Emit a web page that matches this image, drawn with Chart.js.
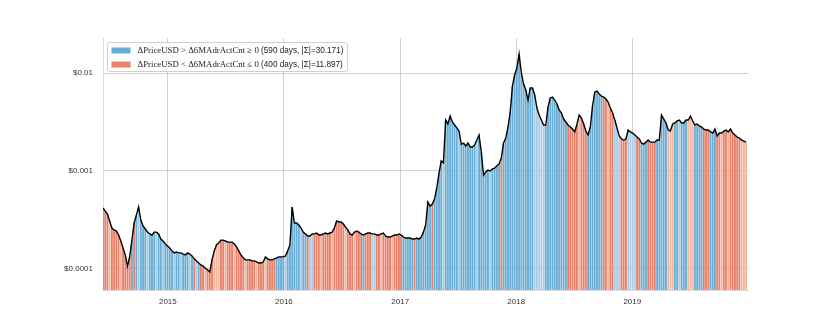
<!DOCTYPE html>
<html>
<head>
<meta charset="utf-8">
<script src="https://cdn.jsdelivr.net/npm/chart.js@4.4.1/dist/chart.umd.min.js"></script>
<style>
    html, body { margin: 0; padding: 0; background: #fff; }
    #wrap { width: 830px; height: 332px; }
</style>
</head>
<body>
<div id="wrap"><canvas id="chart" width="830" height="332"></canvas></div>
<script>
// weekly samples, first one on 2014-06-11
const startDay = Date.UTC(2014, 5, 11) / 86400000;
const stepDays = 7;
const endDay = Date.UTC(2019, 11, 31) / 86400000;

// PriceUSD (weekly)
const price = [
    0.000419, 0.000390, 0.000364, 0.000309, 0.000262, 0.000250, 0.000244, 0.000222, 0.000193, 0.000164,
    0.000139, 0.000107, 0.000133, 0.000197, 0.000295, 0.000355, 0.000429, 0.000316, 0.000275, 0.000256,
    0.000238, 0.000228, 0.000222, 0.000238, 0.000238, 0.000228, 0.000202, 0.000193, 0.000180, 0.000172,
    0.000164, 0.000153, 0.000146, 0.000149, 0.000146, 0.000146, 0.000142, 0.000139, 0.000146, 0.000142,
    0.000136, 0.000127, 0.000121, 0.000115, 0.000110, 0.000107, 0.000102, 0.0000977, 0.0000932, 0.000124,
    0.000153, 0.000176, 0.000184, 0.000197, 0.000197, 0.000193, 0.000188, 0.000188, 0.000188, 0.000180,
    0.000168, 0.000153, 0.000139, 0.000130, 0.000124, 0.000124, 0.000124, 0.000121, 0.000121, 0.000118,
    0.000115, 0.000115, 0.000118, 0.000133, 0.000127, 0.000124, 0.000124, 0.000127, 0.000130, 0.000133,
    0.000133, 0.000133, 0.000136, 0.000153, 0.000176, 0.000429, 0.000295, 0.000295, 0.000281, 0.000262,
    0.000238, 0.000228, 0.000217, 0.000217, 0.000228, 0.000228, 0.000233, 0.000222, 0.000222, 0.000228,
    0.000233, 0.000228, 0.000233, 0.000238, 0.000262, 0.000309, 0.000302, 0.000302, 0.000288, 0.000268,
    0.000250, 0.000228, 0.000222, 0.000238, 0.000244, 0.000238, 0.000228, 0.000222, 0.000228, 0.000233,
    0.000233, 0.000228, 0.000228, 0.000222, 0.000222, 0.000228, 0.000233, 0.000217, 0.000212, 0.000212,
    0.000217, 0.000222, 0.000222, 0.000228, 0.000222, 0.000212, 0.000207, 0.000207, 0.000207, 0.000202,
    0.000202, 0.000207, 0.000202, 0.000212, 0.000238, 0.000281, 0.000483, 0.000439, 0.000460, 0.000518,
    0.000671, 0.000954, 0.00127, 0.00121, 0.00331, 0.00302, 0.00364, 0.00316, 0.00295, 0.00275,
    0.00256, 0.00188, 0.00193, 0.00180, 0.00193, 0.00176, 0.00176, 0.00184, 0.00207, 0.00233,
    0.00156, 0.000910, 0.000977, 0.00102, 0.00100, 0.00105, 0.00107, 0.00113, 0.00118, 0.00136,
    0.00193, 0.00217, 0.00281, 0.00400, 0.00737, 0.00954, 0.01125, 0.0156, 0.0100, 0.00772,
    0.00671, 0.00530, 0.00703, 0.00703, 0.00596, 0.00439, 0.00372, 0.00331, 0.00295, 0.00295,
    0.00450, 0.00556, 0.00569, 0.00530, 0.00483, 0.00419, 0.00390, 0.00339, 0.00316, 0.00295,
    0.00281, 0.00268, 0.00250, 0.00302, 0.00372, 0.00347, 0.00302, 0.00256, 0.00233, 0.00281,
    0.00460, 0.00640, 0.00655, 0.00610, 0.00582, 0.00569, 0.00543, 0.00506, 0.00439, 0.00390,
    0.00331, 0.00275, 0.00228, 0.00212, 0.00207, 0.00212, 0.00262, 0.00250, 0.00244, 0.00233,
    0.00222, 0.00212, 0.00193, 0.00188, 0.00197, 0.00207, 0.00197, 0.00197, 0.00197, 0.00207,
    0.00207, 0.00372, 0.00339, 0.00309, 0.00262, 0.00256, 0.00302, 0.00309, 0.00324, 0.00331,
    0.00309, 0.00309, 0.00331, 0.00331, 0.00364, 0.00324, 0.00295, 0.00302, 0.00288, 0.00281,
    0.00268, 0.00262, 0.00262, 0.00250, 0.00244, 0.00268, 0.00228, 0.00244, 0.00244, 0.00256,
    0.00262, 0.00250, 0.00268, 0.00244, 0.00233, 0.00222, 0.00217, 0.00207, 0.00202, 0.00197
];

// sign of each week: B = up (strong), b = up (weak), R = down (strong), r = down (weak)
const signs = [
    'RRRrRRRRrRRRR', 'B', 'R', 'BbBBBbBBBbBBbBBBBbBBbBBBbB', 'RbB', 'RRrRRR', 'rrr',
    'RRrRRRrRRRRrRRRRrRRRrRRRR', 'BBBBbBBBBBBbBB', 'R', 'bb', 'RRRrRRRRrRRRRRrRRRrRRR',
    'B', 'RRR', 'bb', 'RRrRRRRrRRRR', 'BBBBBRBBBBBBB', 'R', 'BBBBbBBBBBBbBBBBBBBbBBBBBbBBBB',
    'R', 'BBBBBBBBBBBBBB', 'bbbbb', 'BBBBBBBBBB', 'RRRRR', 'rRRR', 'BBBBBBB', 'RRrRR', 'bbb',
    'RRR', 'bbbb', 'RR', 'BBB', 'RRRR', 'BBBBB', 'rrr', 'BBbBBB', 'rrr', 'BBBB', 'RRR', 'BBB',
    'RRrRRrRR', 'RRR', 'rrr'
].join('').split('');

const yTicks = [0.0001, 0.001, 0.01];
const yearTicks = [2015, 2016, 2017, 2018, 2019];

const legendItems = [
    { math: '\u0394PriceUSD > \u03946MAdrActCnt \u2265 0', rest: ' (590 days, |\u03a3|=30.171)', color: '#6aaed6' },
    { math: '\u0394PriceUSD < \u03946MAdrActCnt \u2264 0', rest: ' (400 days, |\u03a3|=11.897)', color: '#e9826a' }
];

const signColors = { B: '#6aaed6', b: '#a9cde4', R: '#e9826a', r: '#f3b6a3' };

const days = price.map((v, i) => startDay + i * stepDays);
const points = price.map((v, i) => ({ x: days[i], y: v }));

const legendBox = {
    id: 'legendBox',
    afterDraw(chart) {
        const ctx = chart.ctx;
        const a = chart.chartArea;
        const x0 = a.left + 4.5, y0 = a.top + 4.5;
        const mathFont = '8.8px "Liberation Serif", serif';
        const restFont = '8.2px "Liberation Sans", sans-serif';
        let textW = 0;
        legendItems.forEach(it => {
            ctx.font = mathFont;
            let w = ctx.measureText(it.math).width;
            ctx.font = restFont;
            w += ctx.measureText(it.rest).width;
            textW = Math.max(textW, w);
        });
        const w = 30 + textW + 4, h = 29;
        ctx.save();
        ctx.fillStyle = 'rgba(255,255,255,0.85)';
        ctx.strokeStyle = '#cfcfcf';
        ctx.lineWidth = 1;
        ctx.beginPath();
        ctx.roundRect(x0, y0, w, h, 2);
        ctx.fill();
        ctx.stroke();
        legendItems.forEach((it, k) => {
            const cy = y0 + 8 + k * 14;
            ctx.fillStyle = it.color;
            ctx.fillRect(x0 + 4, cy - 3, 19, 6);
            ctx.fillStyle = '#222';
            ctx.textBaseline = 'middle';
            ctx.font = mathFont;
            ctx.fillText(it.math, x0 + 30, cy);
            const mw = ctx.measureText(it.math).width;
            ctx.font = restFont;
            ctx.fillText(it.rest, x0 + 30 + mw, cy);
        });
        ctx.restore();
    }
};

new Chart(document.getElementById('chart'), {
    data: {
        datasets: [{
            type: 'line',
            data: points,
            borderColor: '#000',
            borderWidth: 1.4,
            pointRadius: 0,
            tension: 0,
            order: 0
        }, {
            type: 'bar',
            data: points,
            backgroundColor: signs.map(s => signColors[s]),
            borderWidth: 0,
            categoryPercentage: 1,
            barPercentage: 0.85,
            order: 1
        }]
    },
    options: {
        responsive: false,
        animation: false,
        layout: { padding: { top: 38, right: 82, left: 0, bottom: 0 } },
        plugins: { legend: { display: false }, tooltip: { enabled: false } },
        scales: {
            x: {
                type: 'linear',
                offset: false,
                min: startDay,
                max: endDay,
                z: 1,
                afterBuildTicks: s => { s.ticks = yearTicks.map(y => ({ value: Date.UTC(y, 0, 1) / 86400000 })); },
                afterFit: s => { s.height = 42; },
                ticks: {
                    padding: 7,
                    color: '#333',
                    font: { family: 'Liberation Sans', size: 8 },
                    callback: v => new Date(v * 86400000).getUTCFullYear()
                },
                grid: { color: 'rgba(190,190,190,0.7)', drawTicks: false, offset: false },
                border: { color: '#dddddd' }
            },
            y: {
                type: 'logarithmic',
                min: 6.105e-5,
                max: 0.02276,
                z: 1,
                afterBuildTicks: s => { s.ticks = yTicks.map(v => ({ value: v })); },
                afterFit: s => { s.width = 103; },
                ticks: {
                    padding: 10,
                    color: '#333',
                    font: { family: 'Liberation Sans', size: 8 },
                    callback: v => '$' + v
                },
                grid: { color: 'rgba(190,190,190,0.7)', drawTicks: false },
                border: { color: '#dddddd' }
            }
        }
    },
    plugins: [legendBox]
});
</script>
</body>
</html>
